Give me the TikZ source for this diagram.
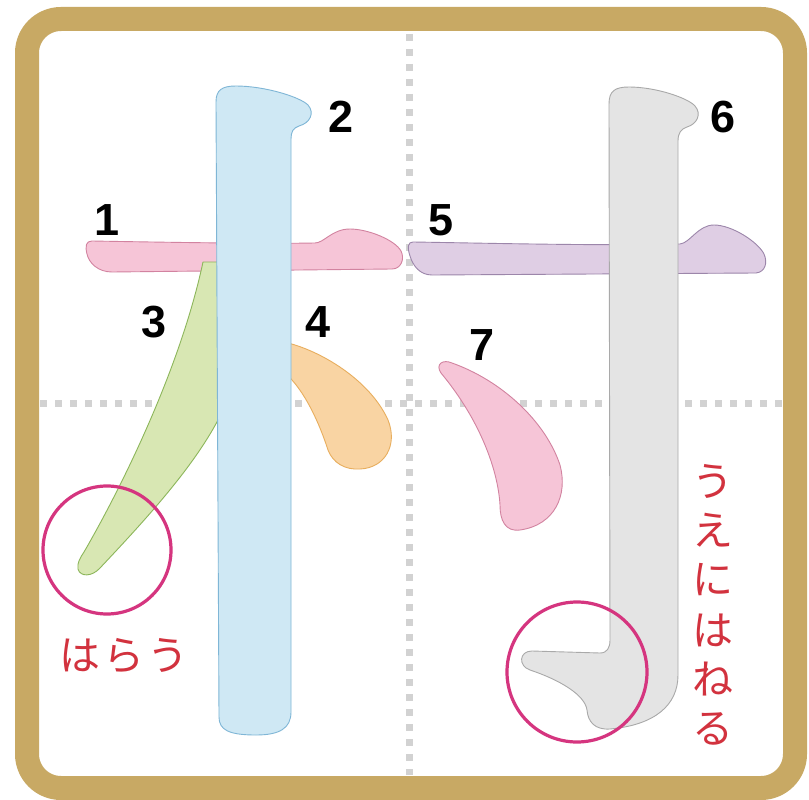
\documentclass[tikz,border=0pt]{standalone}
\usepackage{fontspec}
\newfontfamily\numfont{Liberation Sans}
\newfontfamily\jpfont{Noto Sans CJK JP}
\definecolor{gold}{HTML}{C8A964}
\definecolor{dotgray}{HTML}{D2D2D2}
\definecolor{bluefill}{HTML}{CFE8F4}
\definecolor{blueline}{HTML}{7FB6D6}
\definecolor{pinkfill}{HTML}{F6C5D7}
\definecolor{pinkline}{HTML}{D283A0}
\definecolor{purpfill}{HTML}{DFCEE4}
\definecolor{purpline}{HTML}{9C86AA}
\definecolor{grayfill}{HTML}{E4E4E4}
\definecolor{grayline}{HTML}{A9A9A9}
\definecolor{greenfill}{HTML}{D8E7B3}
\definecolor{greenline}{HTML}{8CB65A}
\definecolor{orfill}{HTML}{F9D4A3}
\definecolor{orline}{HTML}{E8AE5E}
\definecolor{ring}{HTML}{D5357F}
\definecolor{jpred}{HTML}{D2323E}
\tikzset{
  strokeshape/.style={line width=0.9pt, line join=round},
  guide/.style={dotgray, line width=7pt, dash pattern=on 7pt off 8pt},
  numlabel/.style={inner sep=0pt, font=\numfont\bfseries\fontsize{45}{45}\selectfont},
  ringmark/.style={ring, line width=3.2pt},
  jptext/.style={inner sep=0pt, text=jpred, font=\jpfont\fontsize{41}{41}\selectfont}
}
\begin{document}
\begin{tikzpicture}[x=1pt,y=-1pt]
\useasboundingbox (0,0) rectangle (809,800);
\fill[white] (0,0) rectangle (809,800);
% frame
\draw[gold, line width=24pt, rounded corners=34pt] (27,19) rectangle (795,788);
% guides
\draw[guide] (409.5,34) -- (409.5,775);
\draw[guide] (40,403) -- (783,403);
% stroke 1 (pink horizontal)
\draw[strokeshape, fill=pinkfill, draw=pinkline]
  (92,241) .. controls (150,242) and (260,244) .. (315,243)
  .. controls (324,243) and (332,229) .. (350,229)
  .. controls (368,229) and (395,240) .. (401,251)
  .. controls (405,259) and (401,269) .. (392,269)
  -- (112,272)
  .. controls (98,272) and (89,263) .. (87,254)
  .. controls (85,246) and (86,241) .. (92,241) -- cycle;
% stroke 3 (green)
\draw[strokeshape, fill=greenfill, draw=greenline]
  (203,262) -- (224,262) -- (224,408)
  .. controls (200,460) and (150,515) .. (100,568)
  .. controls (92,577) and (80,577) .. (78,569)
  .. controls (77,563) and (80,558) .. (84,552)
  .. controls (120,490) and (180,370) .. (203,262) -- cycle;
% stroke 4 (orange)
\draw[strokeshape, fill=orfill, draw=orline]
  (284,342) .. controls (320,350) and (370,380) .. (388,420)
  .. controls (398,445) and (385,468) .. (360,469)
  .. controls (345,470) and (333,463) .. (328,450)
  .. controls (320,425) and (305,390) .. (284,372) -- cycle;
% stroke 2 (blue vertical)
\draw[strokeshape, fill=bluefill, draw=blueline]
  (216,102) .. controls (216,90) and (222,86) .. (236,86)
  .. controls (265,86) and (300,97) .. (308,105)
  .. controls (315,113) and (310,123) .. (299,126)
  .. controls (293,128) and (291,132) .. (291,139)
  -- (291,712)
  .. controls (291,728) and (280,735) .. (256,735)
  .. controls (229,735) and (219,730) .. (219,717)
  -- cycle;
% stroke 5 (purple horizontal)
\draw[strokeshape, fill=purpfill, draw=purpline]
  (413,242) .. controls (480,243) and (600,246) .. (680,244)
  .. controls (690,243) and (698,225) .. (714,225)
  .. controls (732,225) and (758,242) .. (764,254)
  .. controls (768,263) and (765,272) .. (756,273)
  -- (432,275)
  .. controls (420,275) and (413,266) .. (410,256)
  .. controls (407,247) and (408,242) .. (413,242) -- cycle;
% stroke 7 (pink dot)
\draw[strokeshape, fill=pinkfill, draw=pinkline]
  (441,373) .. controls (435,364) and (443,359) .. (452,363)
  .. controls (500,380) and (545,420) .. (560,465)
  .. controls (568,495) and (555,525) .. (520,530)
  .. controls (505,532) and (500,520) .. (500,505)
  .. controls (498,470) and (480,420) .. (441,373) -- cycle;
% stroke 6 (gray vertical with hook)
\draw[strokeshape, fill=grayfill, draw=grayline]
  (609,104) .. controls (609,91) and (615,87) .. (629,87)
  .. controls (656,87) and (688,98) .. (695,106)
  .. controls (702,114) and (697,124) .. (687,127)
  .. controls (681,129) and (678,133) .. (678,141)
  -- (678,675)
  .. controls (678,705) and (655,725) .. (610,729)
  .. controls (595,730) and (588,722) .. (587,710)
  .. controls (585,695) and (560,680) .. (530,670)
  .. controls (518,666) and (519,651) .. (532,651)
  -- (600,653)
  .. controls (607,653) and (610,648) .. (610,640)
  -- cycle;
% rings
\draw[ringmark] (107,550) circle[radius=64];
\draw[ringmark] (577,672) circle[radius=70];
% numbers
\node[numlabel] (n1) at (107,220) {1};
\node[numlabel] (n2) at (341,117) {2};
\node[numlabel] (n3) at (154,322) {3};
\node[numlabel] (n4) at (318,322) {4};
\node[numlabel] (n5) at (441,220) {5};
\node[numlabel] (n6) at (723,117) {6};
\node[numlabel] (n7) at (482,345) {7};
% japanese texts
\node[jptext] (harau) at (124,656) {は\kern3pt ら\kern3pt う};
\node[jptext] (v1) at (713,481) {う};
\node[jptext] (v2) at (713,530) {え};
\node[jptext] (v3) at (713,580) {に};
\node[jptext] (v4) at (713,630) {は};
\node[jptext] (v5) at (713,679) {ね};
\node[jptext] (v6) at (713,729) {る};
\end{tikzpicture}
\end{document}
